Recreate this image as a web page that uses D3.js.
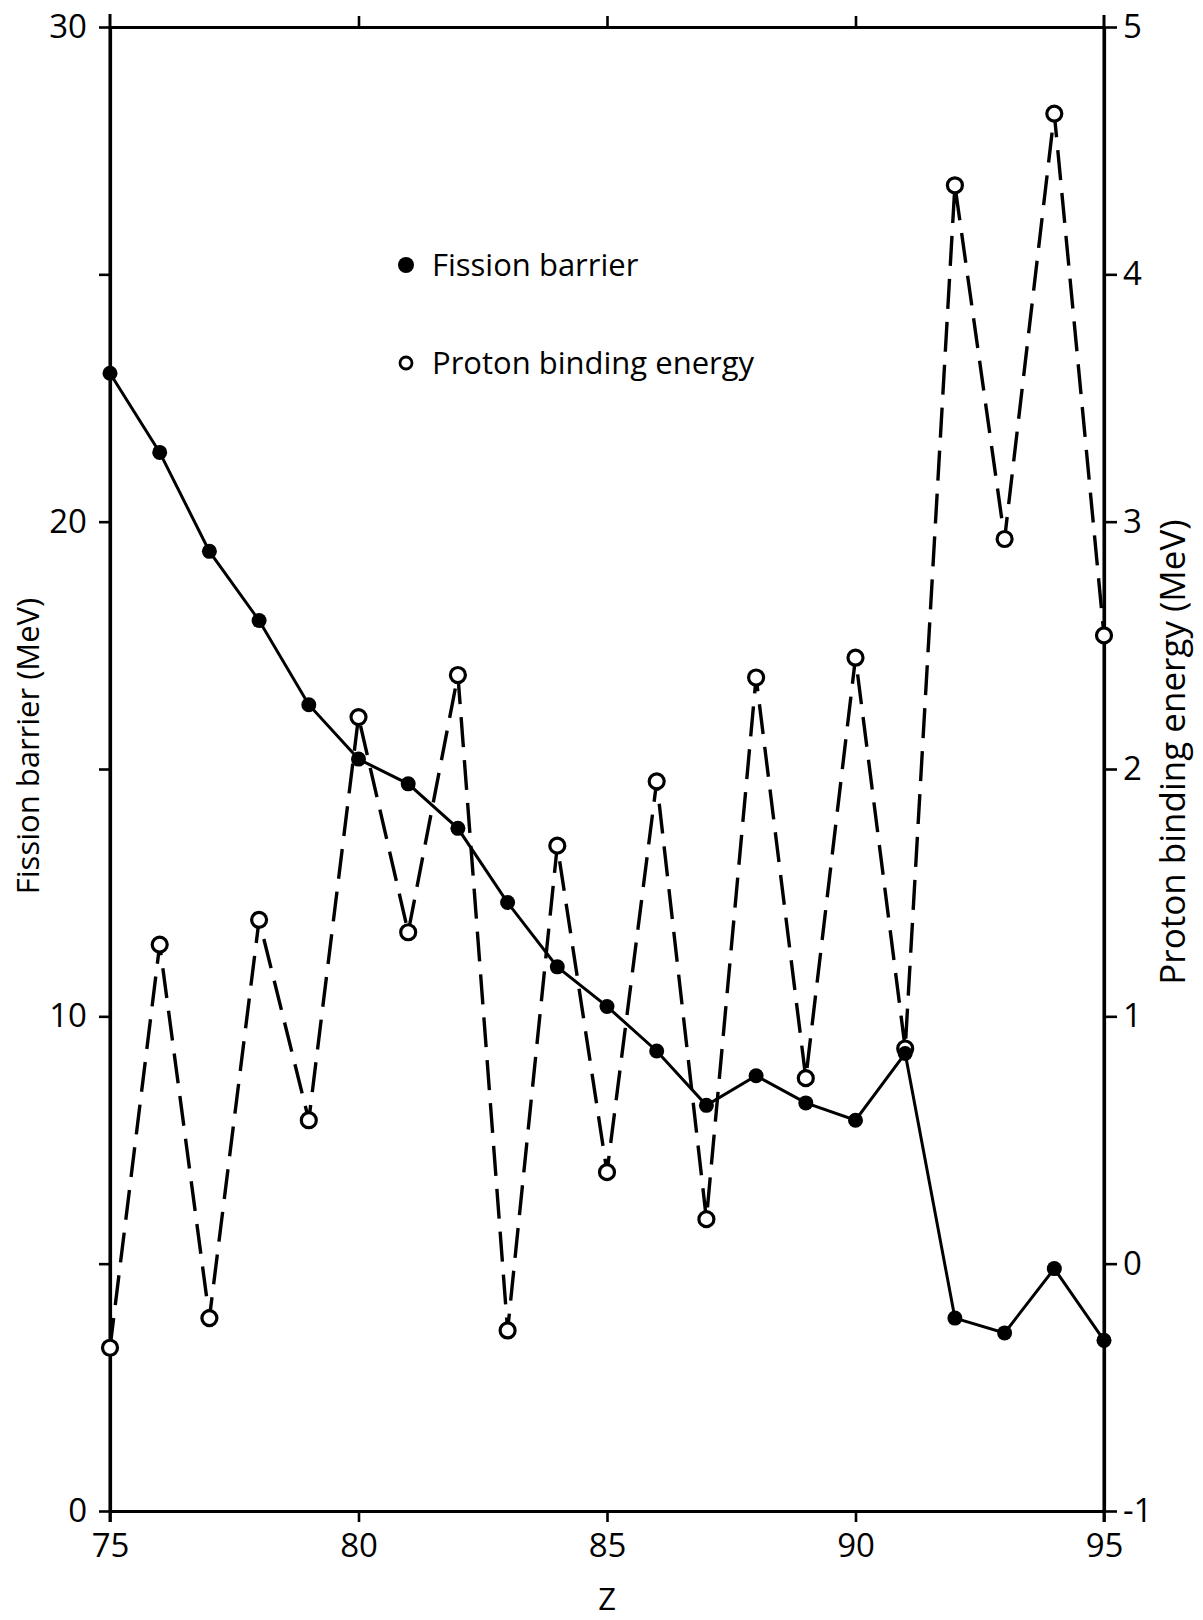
<!DOCTYPE html>
<html>
<head>
<meta charset="utf-8">
<script src="https://d3js.org/d3.v7.min.js"></script>
<style>
body { margin: 0; background: #fff; }
svg { display: block; font-family: "Open Sans", "DejaVu Sans", sans-serif; }
.axis path, .axis line { stroke: #000; }
.axis text { fill: #000; }
</style>
</head>
<body>
<div id="plot"></div>
<script>

var Z = [75, 76, 77, 78, 79, 80, 81, 82, 83, 84, 85, 86, 87, 88, 89, 90, 91, 92, 93, 94, 95];
var fissionBarrier = [23.0, 21.4, 19.4, 18.0, 16.3, 15.2, 14.7, 13.8, 12.3, 11.0, 10.2,
  9.3, 8.2, 8.8, 8.25, 7.9, 9.25, 3.9, 3.6, 4.9, 3.45];
var protonBinding = [-0.34, 1.29, -0.22, 1.39, 0.58, 2.21, 1.34, 2.38, -0.27, 1.69, 0.37,
  1.95, 0.18, 2.37, 0.75, 2.45, 0.87, 4.36, 2.93, 4.65, 2.54];

var leftTicks = [0, 5, 10, 15, 20, 25, 30];
var rightTicks = [-1, 0, 1, 2, 3, 4, 5];
var zTicks = [75, 80, 85, 90, 95];

var W = 1203, H = 1620;
var margin = { top: 27, left: 110, right: 99, bottom: 109 };
var width = W - margin.left - margin.right;
var height = H - margin.top - margin.bottom;

var svg = d3.select("#plot").append("svg").attr("width", W).attr("height", H);
var g = svg.append("g").attr("transform", "translate(" + margin.left + "," + margin.top + ")");

var x = d3.scaleLinear().domain([75, 95]).range([0, width]);
var yL = d3.scaleLinear().domain([0, 30]).range([height, 0]);
var yR = d3.scaleLinear().domain([-1, 5]).range([height, 0]);

// axes
var leftAxis = d3.axisLeft(yL).tickValues(leftTicks).tickSize(11).tickSizeOuter(0)
  .tickFormat(function (d) { return d % 10 == 0 ? d : ""; }).tickPadding(12);
var rightAxis = d3.axisRight(yR).tickValues(rightTicks).tickSize(13).tickSizeOuter(0)
  .tickFormat(function (d) { return d < 0 ? "-" + Math.abs(d) : d; }).tickPadding(6);
var bottomAxis = d3.axisBottom(x).tickValues(zTicks).tickSize(11).tickSizeOuter(0).tickPadding(12);
var topAxis = d3.axisTop(x).tickValues([80, 85, 90]).tickSize(11).tickSizeOuter(0).tickFormat("");

[["left", leftAxis, "translate(0,0)"],
 ["right", rightAxis, "translate(" + width + ",0)"],
 ["bottom", bottomAxis, "translate(0," + height + ")"],
 ["top", topAxis, "translate(0,0)"]].forEach(function (a) {
  var ax = g.append("g").attr("class", "axis " + a[0]).attr("transform", a[2]).call(a[1]);
  ax.attr("font-family", null).attr("font-size", null);
  ax.select(".domain").attr("stroke-width", 3.2);
  ax.selectAll(".tick line").attr("stroke-width", 2.6);
  ax.selectAll(".tick text").attr("font-size", 33);
});

// axis ends poke past the frame a little
g.append("line").attr("x1", x(75)).attr("x2", x(75)).attr("y1", -13).attr("y2", height + 11)
  .attr("stroke", "#000").attr("stroke-width", 3);
g.append("line").attr("x1", x(95)).attr("x2", x(95)).attr("y1", -12).attr("y2", height + 11)
  .attr("stroke", "#000").attr("stroke-width", 3);

// axis titles
svg.append("text").attr("transform", "translate(39,746) rotate(-90)")
  .attr("text-anchor", "middle").attr("font-size", 31).text("Fission barrier (MeV)");
svg.append("text").attr("transform", "translate(1185,752) rotate(-90)")
  .attr("text-anchor", "middle").attr("font-size", 35).text("Proton binding energy (MeV)");
svg.append("text").attr("x", margin.left + x(85)).attr("y", 1610)
  .attr("text-anchor", "middle").attr("font-size", 31).text("Z");

// series
var fData = Z.map(function (z, i) { return { z: z, v: fissionBarrier[i] }; });
var pData = Z.map(function (z, i) { return { z: z, v: protonBinding[i] }; });

var lineL = d3.line().x(function (d) { return x(d.z); }).y(function (d) { return yL(d.v); });
var lineR = d3.line().x(function (d) { return x(d.z); }).y(function (d) { return yR(d.v); });

g.append("path").datum(pData).attr("d", lineR).attr("fill", "none")
  .attr("stroke", "#000").attr("stroke-width", 3.4).attr("stroke-dasharray", "30,13");
g.append("path").datum(fData).attr("d", lineL).attr("fill", "none")
  .attr("stroke", "#000").attr("stroke-width", 3);

g.selectAll("circle.proton").data(pData).enter().append("circle")
  .attr("class", "proton")
  .attr("cx", function (d) { return x(d.z); })
  .attr("cy", function (d) { return yR(d.v); })
  .attr("r", 7.5).attr("fill", "#fff").attr("stroke", "#000").attr("stroke-width", 3.2);

g.selectAll("circle.fission").data(fData).enter().append("circle")
  .attr("class", "fission")
  .attr("cx", function (d) { return x(d.z); })
  .attr("cy", function (d) { return yL(d.v); })
  .attr("r", 7.5).attr("fill", "#000");

// legend
var legend = [
  { label: "Fission barrier", filled: true, y: 265 },
  { label: "Proton binding energy", filled: false, y: 363 }
];
legend.forEach(function (l) {
  svg.append("circle").attr("cx", 406).attr("cy", l.y).attr("r", l.filled ? 8 : 6)
    .attr("fill", l.filled ? "#000" : "#fff").attr("stroke", "#000")
    .attr("stroke-width", l.filled ? 0 : 2.8);
  svg.append("text").attr("x", 432).attr("y", l.y + 11).attr("font-size", 31).text(l.label);
});

</script>
</body>
</html>
